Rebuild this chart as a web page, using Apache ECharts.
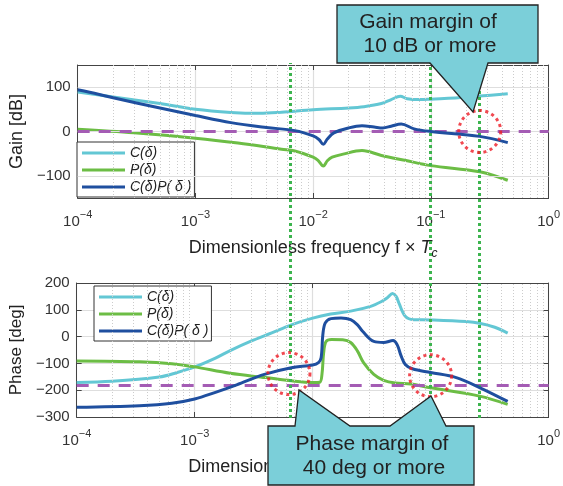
<!DOCTYPE html>
<html>
<head>
<meta charset="utf-8">
<script src="https://cdn.jsdelivr.net/npm/echarts@6/dist/echarts.min.js"></script>
<style>
html, body { margin: 0; padding: 0; background: #fff; }
#chart { width: 563px; height: 486px; }
</style>
</head>
<body>
<div id="chart"></div>
<script>
var names = ['C(δ)', 'P(δ)', 'C(δ)P( δ )'];
var colors = ['#63c7d4', '#6cbd45', '#1f4f9f'];
var font = 'Liberation Sans, Arial, sans-serif';

// gain [dB]
var gainC_f  = [1e-4, 2e-4, 5e-4, 1e-3, 2e-3, 3.5e-3, 5.4e-3, 1e-2, 2e-2, 2.7e-2, 3.8e-2, 4.6e-2, 5.5e-2, 6.3e-2, 8e-2, 0.1, 0.2, 0.26, 0.45];
var gainC    = [89, 78, 63, 50, 43, 41, 43.5, 49, 53, 56, 63, 72, 79.5, 74, 72, 73, 77, 80, 85];
var gainP_f  = [1e-4, 3e-4, 1e-3, 2.3e-3, 5.4e-3, 7e-3, 1e-2, 1.1e-2, 1.22e-2, 1.32e-2, 1.45e-2, 1.8e-2, 2.6e-2, 3.8e-2, 6e-2, 0.1, 0.26, 0.45];
var gainP    = [5, -3, -15, -26, -40, -44, -58, -65, -78, -66, -58, -51, -43, -54, -65, -77, -91, -110];
var gainCP_f = [1e-4, 1.5e-4, 2e-4, 5e-4, 1e-3, 2e-3, 4e-3, 7e-3, 1e-2, 1.12e-2, 1.22e-2, 1.32e-2, 1.5e-2, 2e-2, 2.6e-2, 3.3e-2, 3.9e-2, 4.6e-2, 5.6e-2, 7.2e-2, 0.1, 0.26, 0.45];
var gainCP   = [94, 84, 76, 53, 36, 20, 9, 2, -10, -18, -29, -17, -3, 8, 13, 10, 8, 12, 17, 6, 0, -11, -25];

// phase [deg]
var phaseC_f  = [1e-4, 2e-4, 5e-4, 7e-4, 1e-3, 1.5e-3, 2e-3, 3e-3, 4.5e-3, 6.6e-3, 1e-2, 1.42e-2, 2.1e-2, 3.1e-2, 3.8e-2, 4.3e-2, 4.75e-2, 5.1e-2, 5.4e-2, 6.1e-2, 7.2e-2, 0.1, 0.2, 0.26, 0.35, 0.45];
var phaseC    = [-171, -167, -151, -135, -113, -80, -52, -17, 14, 44, 69, 84, 95, 113, 130, 145, 161, 150, 124, 76, 63, 62, 56, 50, 35, 13];
var phaseP_f  = [1e-4, 3.4e-4, 6.4e-4, 1e-3, 2e-3, 4e-3, 6.6e-3, 1e-2, 1.15e-2, 1.2e-2, 1.24e-2, 1.3e-2, 1.45e-2, 1.8e-2, 2.1e-2, 2.4e-2, 2.7e-2, 3.3e-2, 4e-2, 5e-2, 6.8e-2, 0.1, 0.26, 0.45];
var phaseP    = [-91, -94, -101, -113, -137, -153, -165, -171, -170, -140, -60, -18, -11, -12, -22, -54, -97, -141, -163, -173, -177, -191, -222, -253];
var phaseCP_f = [1e-4, 3.4e-4, 6.4e-4, 1e-3, 1.5e-3, 2.27e-3, 3.9e-3, 6.6e-3, 1e-2, 1.12e-2, 1.18e-2, 1.22e-2, 1.28e-2, 1.43e-2, 1.74e-2, 2.1e-2, 2.4e-2, 2.65e-2, 3.3e-2, 4e-2, 4.8e-2, 5.2e-2, 5.6e-2, 6.1e-2, 7e-2, 0.1, 0.165, 0.26, 0.45];
var phaseCP   = [-264, -258, -249, -233, -208, -180, -141, -116, -106, -97, -79, 7, 51, 67, 69, 63, 44, 20, -18, -22, -15, -30, -70, -104, -120, -134, -153, -190, -242];

// axes / annotations
var gainTicks = [-100, 0, 100];
var decades = [1e-4, 1e-3, 1e-2, 1e-1];
var gainLimit = 0;
var phaseLimit = -180;
var marginFreqs = [0.0066, 0.1, 0.26];
var gainCircles = [[0.26, 0]];
var phaseCircles = [[0.0063, -138], [0.1, -146]];

var minorTicks = [];
decades.forEach(function (d) {
    for (var m = 2; m <= 9; m++) minorTicks.push(m * d);
});

function pts(fs, vs) {
    return fs.map(function (f, i) { return [f, vs[i]]; });
}

function xAxisFor(grid, top, show) {
    return {
        type: 'log', logBase: 10, gridIndex: grid, min: 1e-4, max: 1,
        position: top ? 'top' : 'bottom',
        show: show !== false,
        name: top ? '' : 'Dimensionless frequency f × {it|T}{sub|c}',
        nameLocation: 'middle', nameGap: 27,
        nameTextStyle: {
            fontSize: 18, color: '#222', fontFamily: font, lineHeight: 24,
            rich: {
                it: { fontSize: 18, fontStyle: 'italic', color: '#222', lineHeight: 24 },
                sub: { fontSize: 12, fontStyle: 'italic', color: '#222', lineHeight: 12, verticalAlign: 'bottom' }
            }
        },
        axisLine: { onZero: false, lineStyle: { color: '#444', width: 1 } },
        axisTick: { inside: true, length: 5, lineStyle: { color: '#444' } },
        axisLabel: {
            show: !top, margin: 11, color: '#333', fontSize: 15, lineHeight: 26, fontFamily: font,
            formatter: function (v) {
                var e = Math.round(Math.log(v) / Math.LN10);
                return '10{s|' + (e < 0 ? '−' + (-e) : e) + '}';
            },
            rich: { s: { fontSize: 11, lineHeight: 11, verticalAlign: 'top', color: '#333' } }
        },
        splitLine: { show: !top, lineStyle: { color: '#dedede', width: 1.2 } }
    };
}

function gridHelper(xi, yi, hLines) {
    var lines = minorTicks.map(function (v) {
        return { xAxis: v, lineStyle: { color: '#cccccc', type: [1, 2], width: 1 } };
    });
    hLines.forEach(function (v) {
        lines.push({ yAxis: v, lineStyle: { color: '#dedede', type: 'solid', width: 1.2 } });
    });
    return {
        type: 'line', xAxisIndex: xi, yAxisIndex: yi, data: [], z: 1,
        markLine: { silent: true, symbol: 'none', precision: 8, label: { show: false }, animation: false, data: lines }
    };
}

function curve(k, xi, yi, data) {
    return {
        name: names[k], type: 'line', xAxisIndex: xi, yAxisIndex: yi,
        data: data, showSymbol: false, symbol: 'none', smooth: 0.35, z: 3 + k,
        color: colors[k], lineStyle: { width: 3, color: colors[k] }
    };
}

function limitLine(xi, yi, v) {
    return {
        type: 'line', xAxisIndex: xi, yAxisIndex: yi, data: [], z: 7,
        markLine: {
            silent: true, symbol: 'none', label: { show: false }, animation: false,
            lineStyle: { color: '#a45cb4', width: 3, type: [12, 9] },
            data: [{ yAxis: v }]
        }
    };
}

function circles(xi, yi, data) {
    return {
        type: 'scatter', xAxisIndex: xi, yAxisIndex: yi, data: data, z: 8,
        symbol: 'circle', symbolSize: 42, silent: true,
        itemStyle: { color: 'rgba(0,0,0,0)', borderColor: '#ee1c25', borderWidth: 3, borderType: [3, 3.5] }
    };
}

function legendAt(left, top) {
    return {
        data: names, left: left, top: top, orient: 'vertical', icon: 'rect',
        itemWidth: 43, itemHeight: 3, itemGap: 3, padding: [4, 3, 3, 5],
        backgroundColor: '#fff', borderColor: '#333', borderWidth: 1, selectedMode: false,
        textStyle: { fontStyle: 'italic', fontSize: 14, color: '#222', fontFamily: font }
    };
}

var myChart = echarts.init(document.getElementById('chart'));

option = {
    animation: false,
    textStyle: { fontFamily: font },
    grid: [
        { left: 74, right: 14, top: 65, height: 133 },
        { left: 74, right: 14, top: 283, height: 134 },
        { left: 74, right: 14, top: 63, height: 355 }
    ],
    legend: [legendAt(77, 142), legendAt(94, 286)],
    xAxis: [
        xAxisFor(0, false), xAxisFor(0, true),
        xAxisFor(1, false), xAxisFor(1, true),
        xAxisFor(2, false, false)
    ],
    yAxis: [
        {
            type: 'value', gridIndex: 0, min: -150, max: 150, interval: 50,
            name: 'Gain [dB]', nameLocation: 'middle', nameGap: 44,
            nameTextStyle: { fontSize: 18, color: '#222' },
            axisLine: { show: true, onZero: false, lineStyle: { color: '#444' } },
            axisTick: { inside: true, length: 5, customValues: gainTicks, lineStyle: { color: '#444' } },
            axisLabel: { customValues: gainTicks, margin: 7, fontSize: 15, color: '#333',
                formatter: function (v) { return String(v).replace('-', '−'); } },
            splitLine: { show: false }
        },
        {
            type: 'value', gridIndex: 0, min: -150, max: 150, interval: 50, position: 'right',
            axisLine: { show: true, onZero: false, lineStyle: { color: '#444' } },
            axisTick: { inside: true, length: 5, customValues: gainTicks, lineStyle: { color: '#444' } },
            axisLabel: { show: false }, splitLine: { show: false }
        },
        {
            type: 'value', gridIndex: 1, min: -300, max: 200, interval: 100,
            name: 'Phase [deg]', nameLocation: 'middle', nameGap: 45,
            nameTextStyle: { fontSize: 17, color: '#222' },
            axisLine: { show: true, onZero: false, lineStyle: { color: '#444' } },
            axisTick: { inside: true, length: 5, lineStyle: { color: '#444' } },
            axisLabel: { margin: 7, fontSize: 15, color: '#333',
                formatter: function (v) { return String(v).replace('-', '−'); } },
            splitLine: { show: true, lineStyle: { color: '#dedede', width: 1.2 } }
        },
        {
            type: 'value', gridIndex: 1, min: -300, max: 200, interval: 100, position: 'right',
            axisLine: { show: true, onZero: false, lineStyle: { color: '#444' } },
            axisTick: { inside: true, length: 5, lineStyle: { color: '#444' } },
            axisLabel: { show: false }, splitLine: { show: false }
        },
        { type: 'value', gridIndex: 2, min: 0, max: 1, show: false }
    ],
    series: [
        gridHelper(0, 0, gainTicks),
        curve(0, 0, 0, pts(gainC_f, gainC)),
        curve(1, 0, 0, pts(gainP_f, gainP)),
        curve(2, 0, 0, pts(gainCP_f, gainCP)),
        limitLine(0, 0, gainLimit),
        circles(0, 0, gainCircles),

        gridHelper(2, 2, []),
        curve(0, 2, 2, pts(phaseC_f, phaseC)),
        curve(1, 2, 2, pts(phaseP_f, phaseP)),
        curve(2, 2, 2, pts(phaseCP_f, phaseCP)),
        limitLine(2, 2, phaseLimit),
        circles(2, 2, phaseCircles),

        {
            type: 'line', xAxisIndex: 4, yAxisIndex: 4, data: [], z: 9,
            markLine: {
                silent: true, symbol: 'none', precision: 8, label: { show: false }, animation: false,
                lineStyle: { color: '#3cb44e', width: 3, type: [3, 3] },
                data: marginFreqs.map(function (f) { return { xAxis: f }; })
            }
        }
    ],
    graphic: [
        {
            type: 'polygon', z: 100,
            shape: { points: [[337, 5], [538, 5], [538, 63], [488, 63], [473, 112], [430, 63], [337, 63]] },
            style: { fill: '#7bcfd9', stroke: '#222', lineWidth: 1.3 }
        },
        { type: 'text', z: 101, x: 428, y: 22, style: { text: 'Gain margin of', font: '21px ' + font, fill: '#222', textAlign: 'center', textVerticalAlign: 'middle' } },
        { type: 'text', z: 101, x: 430, y: 46, style: { text: '10 dB or more', font: '21px ' + font, fill: '#222', textAlign: 'center', textVerticalAlign: 'middle' } },
        {
            type: 'polygon', z: 100,
            shape: { points: [[268, 426], [295, 426], [299, 390], [350, 426], [390, 426], [431, 396], [446, 426], [474, 426], [474, 485], [268, 485]] },
            style: { fill: '#7bcfd9', stroke: '#222', lineWidth: 1.3 }
        },
        { type: 'text', z: 101, x: 372, y: 444, style: { text: 'Phase margin of', font: '21px ' + font, fill: '#222', textAlign: 'center', textVerticalAlign: 'middle' } },
        { type: 'text', z: 101, x: 374, y: 468, style: { text: '40 deg or more', font: '21px ' + font, fill: '#222', textAlign: 'center', textVerticalAlign: 'middle' } }
    ]
};

myChart.setOption(option);
</script>
</body>
</html>
